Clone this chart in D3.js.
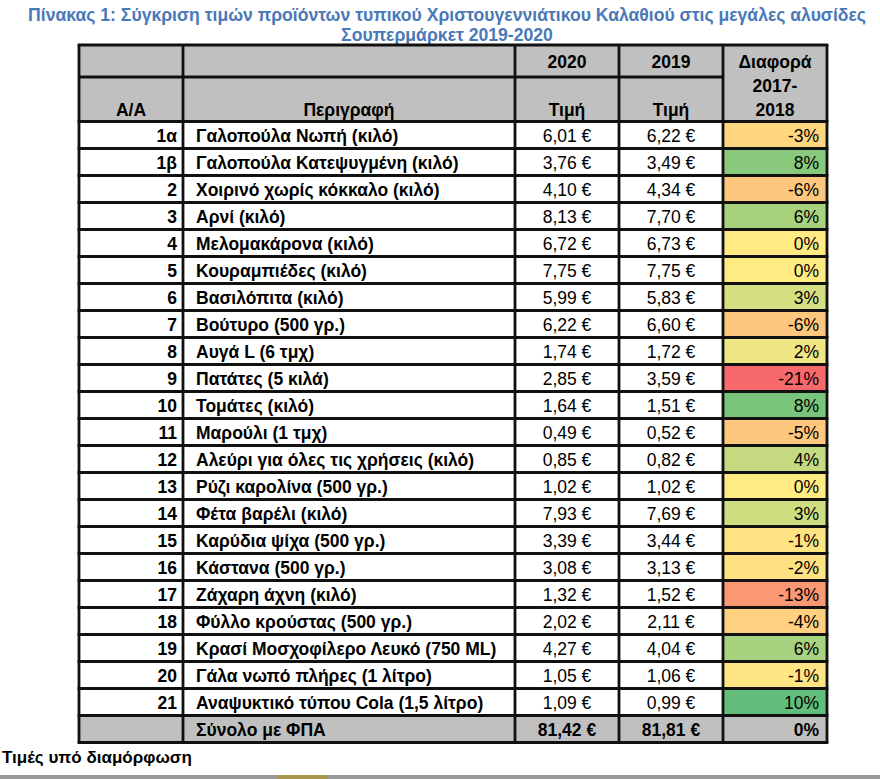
<!DOCTYPE html>
<html><head><meta charset="utf-8">
<script src="https://cdn.jsdelivr.net/npm/d3@7"></script>
<style>
html,body{margin:0;padding:0;background:#fff;}
svg{display:block;}
text{font-family:"Liberation Sans",Arial,sans-serif;}
</style></head>
<body>
<svg id="c" width="880" height="779"></svg>
<script>
const titleLines = ["Πίνακας 1: Σύγκριση τιμών προϊόντων τυπικού Χριστουγεννιάτικου Καλαθιού στις μεγάλες αλυσίδες","Σουπερμάρκετ 2019-2020"];
const codes = ["1α","1β","2","3","4","5","6","7","8","9","10","11","12","13","14","15","16","17","18","19","20","21"];
const names = ["Γαλοπούλα Νωπή (κιλό)","Γαλοπούλα Κατεψυγμένη (κιλό)","Χοιρινό χωρίς κόκκαλο (κιλό)","Αρνί (κιλό)","Μελομακάρονα (κιλό)","Κουραμπιέδες (κιλό)","Βασιλόπιτα (κιλό)","Βούτυρο (500 γρ.)","Αυγά L (6 τμχ)","Πατάτες (5 κιλά)","Τομάτες (κιλό)","Μαρούλι (1 τμχ)","Αλεύρι για όλες τις χρήσεις (κιλό)","Ρύζι καρολίνα (500 γρ.)","Φέτα βαρέλι (κιλό)","Καρύδια ψίχα (500 γρ.)","Κάστανα (500 γρ.)","Ζάχαρη άχνη (κιλό)","Φύλλο κρούστας (500 γρ.)","Κρασί Μοσχοφίλερο Λευκό (750 ML)","Γάλα νωπό πλήρες (1 λίτρο)","Αναψυκτικό τύπου Cola (1,5 λίτρο)"];
const price2020 = [6.01,3.76,4.10,8.13,6.72,7.75,5.99,6.22,1.74,2.85,1.64,0.49,0.85,1.02,7.93,3.39,3.08,1.32,2.02,4.27,1.05,1.09];
const price2019 = [6.22,3.49,4.34,7.70,6.73,7.75,5.83,6.60,1.72,3.59,1.51,0.52,0.82,1.02,7.69,3.44,3.13,1.52,2.11,4.04,1.06,0.99];
const diffPct = [-3,8,-6,6,0,0,3,-6,2,-21,8,-5,4,0,3,-1,-2,-13,-4,6,-1,10];
const totalLabel = "Σύνολο με ΦΠΑ";
const total2020 = 81.42, total2019 = 81.81, totalDiff = 0;
const headerYears = ["2020","2019"];
const headerCols = ["Α/Α","Περιγραφή","Τιμή","Τιμή"];
const headerDiff = ["Διαφορά","2017-","2018"];
const footnote = "Τιμές υπό διαμόρφωση";

const svg = d3.select("#c");
const fmtEuro = v => d3.format(".2f")(v).replace(".", ",") + " €";

// columns
const colEdges = [79, 183, 515, 619, 723, 827];
const L = colEdges[0], R = colEdges[5];
const tTop = 45, hsep = 77, hbot = 121.5, tBottom = 742.5;
const rowKeys = codes.concat(["total"]);
const y = d3.scaleBand().domain(rowKeys).range([hbot, tBottom]).padding(0);

// color scale for diff column (red - yellow - green)
const ratios = price2020.map((v,i)=> v/price2019[i]-1);
const color = d3.scaleLinear()
  .domain([d3.min(ratios), 0, d3.max(ratios)])
  .range(["#F8696B","#FFEB84","#63BE7B"]);

// title
svg.selectAll("text.title").data(titleLines).join("text")
  .attr("class","title")
  .attr("x", 447).attr("y",(d,i)=> 21 + i*20)
  .attr("text-anchor","middle")
  .attr("font-size", 17.6).attr("font-weight","bold")
  .attr("fill","#4a78b8")
  .text(d=>d);

// header background
svg.append("rect").attr("x",L).attr("y",tTop).attr("width",R-L).attr("height",hbot-tTop).attr("fill","#c0c0c0");
// total row background
svg.append("rect").attr("x",L).attr("y",y("total")).attr("width",R-L).attr("height",y.bandwidth()).attr("fill","#c0c0c0");

// diff cells
svg.selectAll("rect.diff").data(codes).join("rect")
  .attr("class","diff")
  .attr("x", colEdges[4]).attr("y", d=>y(d))
  .attr("width", colEdges[5]-colEdges[4]).attr("height", y.bandwidth())
  .attr("fill", (d,i)=> color(ratios[i]));

// grid lines
const g = svg.append("g").attr("stroke","#111").attr("stroke-width",2.8);
const hLines = [tTop, hbot].concat(rowKeys.map(k=>y(k)+y.bandwidth()));
hLines.forEach(yy=> g.append("line").attr("x1",L-1.4).attr("x2",R+1.4).attr("y1",yy).attr("y2",yy));
g.append("line").attr("x1",L).attr("x2",colEdges[4]).attr("y1",hsep).attr("y2",hsep);
colEdges.forEach(xx=> g.append("line").attr("x1",xx).attr("x2",xx).attr("y1",tTop).attr("y2",tBottom));

const fs = 17.5;
// header texts
svg.selectAll("text.hy").data(headerYears).join("text").attr("class","hy")
  .attr("x",(d,i)=> (colEdges[2+i]+colEdges[3+i])/2).attr("y", 68)
  .attr("text-anchor","middle").attr("font-size",fs).attr("font-weight","bold").text(d=>d);
svg.selectAll("text.hc").data(headerCols).join("text").attr("class","hc")
  .attr("x",(d,i)=> (colEdges[i]+colEdges[i+1])/2).attr("y", 116)
  .attr("text-anchor","middle").attr("font-size",fs).attr("font-weight","bold").text(d=>d);
svg.selectAll("text.hd").data(headerDiff).join("text").attr("class","hd")
  .attr("x",(colEdges[4]+colEdges[5])/2).attr("y",(d,i)=> 68 + i*24)
  .attr("text-anchor","middle").attr("font-size",fs).attr("font-weight","bold").text(d=>d);

const ty = k => y(k) + y.bandwidth()/2 + 6.5;
svg.selectAll("text.code").data(codes).join("text").attr("class","code")
  .attr("x", colEdges[1]-6).attr("y", d=>ty(d)).attr("text-anchor","end")
  .attr("font-size",fs).attr("font-weight","bold").text(d=>d);
svg.selectAll("text.name").data(names).join("text").attr("class","name")
  .attr("x", colEdges[1]+13).attr("y",(d,i)=>ty(codes[i]))
  .attr("font-size",fs).attr("font-weight","bold").text(d=>d);
svg.selectAll("text.p20").data(price2020).join("text").attr("class","p20")
  .attr("x",(colEdges[2]+colEdges[3])/2).attr("y",(d,i)=>ty(codes[i])).attr("text-anchor","middle")
  .attr("font-size",fs).text(d=>fmtEuro(d));
svg.selectAll("text.p19").data(price2019).join("text").attr("class","p19")
  .attr("x",(colEdges[3]+colEdges[4])/2).attr("y",(d,i)=>ty(codes[i])).attr("text-anchor","middle")
  .attr("font-size",fs).text(d=>fmtEuro(d));
svg.selectAll("text.dp").data(diffPct).join("text").attr("class","dp")
  .attr("x",colEdges[5]-8).attr("y",(d,i)=>ty(codes[i])).attr("text-anchor","end")
  .attr("font-size",fs).text(d=>d+"%");

// total row
const tyT = ty("total");
svg.append("text").attr("x",colEdges[1]+13).attr("y",tyT).attr("font-size",fs).attr("font-weight","bold").text(totalLabel);
svg.append("text").attr("x",(colEdges[2]+colEdges[3])/2).attr("y",tyT).attr("text-anchor","middle").attr("font-size",fs).attr("font-weight","bold").text(fmtEuro(total2020));
svg.append("text").attr("x",(colEdges[3]+colEdges[4])/2).attr("y",tyT).attr("text-anchor","middle").attr("font-size",fs).attr("font-weight","bold").text(fmtEuro(total2019));
svg.append("text").attr("x",colEdges[5]-8).attr("y",tyT).attr("text-anchor","end").attr("font-size",fs).attr("font-weight","bold").text(totalDiff+"%");

// footnote
svg.append("text").attr("x",2).attr("y",763).attr("font-size",17).attr("font-weight","bold").text(footnote);

// bottom strip
svg.append("rect").attr("x",0).attr("y",775).attr("width",880).attr("height",4).attr("fill","#9a9a9a");
svg.append("rect").attr("x",278).attr("y",775).attr("width",50).attr("height",4).attr("fill","#a8964e");
</script>
</body></html>
